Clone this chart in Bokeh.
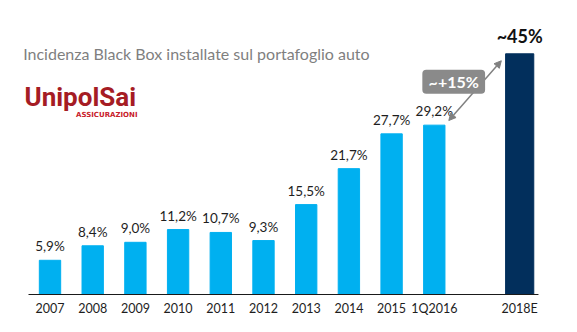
from bokeh.plotting import figure
from bokeh.models import Range1d, FixedTicker, Label, Arrow, NormalHead, BoxAnnotation
from bokeh.core.properties import value
from bokeh.embed import file_html
from bokeh.resources import INLINE

# ---- data ----
periods = ["2007", "2008", "2009", "2010", "2011", "2012", "2013", "2014", "2015", "1Q2016"]
shares = [5.9, 8.4, 9.0, 11.2, 10.7, 9.3, 15.5, 21.7, 27.7, 29.2]
share_labels = ["5,9%", "8,4%", "9,0%", "11,2%", "10,7%", "9,3%", "15,5%", "21,7%", "27,7%", "29,2%"]
target_period = "2018E"
target_bar = 41.5          # bar height as drawn in the picture
target_label = "~45%"
growth_label = "~+15%"
title_text = "Incidenza Black Box installate sul portafoglio auto"
logo_text = "UnipolSai"
logo_sub = "ASSICURAZIONI"

xs = list(range(len(periods)))
target_x = len(periods) + 1   # one empty slot before the estimate

FONT = "Lato"

p = figure(width=577, height=332, output_backend="svg", toolbar_location=None,
           x_range=Range1d(-1.1593, 12.354), y_range=Range1d(-0.17, 50.69),
           min_border_left=0, min_border_right=0, min_border_top=0, min_border_bottom=37,
           y_axis_location=None)
p.outline_line_color = None
p.grid.visible = False
p.background_fill_color = "white"

# bars
p.vbar(x=xs, top=shares, width=0.5, color="#00b0f0")
p.vbar(x=[target_x], top=[target_bar], width=0.66, color="#022f5c")

# baseline
p.segment(x0=[xs[0] - 0.5035], y0=[0], x1=[target_x + 0.44], y1=[0],
          line_color="#1a1a1a", line_width=1)

# value labels
p.text(x=xs, y=shares, text=share_labels, text_align="center", text_baseline="middle",
       y_offset=-14, text_font=value(FONT), text_font_size="13.5px", text_color="#1e1e1e")
p.text(x=[target_x], y=[target_bar], text=[target_label], text_align="center",
       text_baseline="middle", y_offset=-18, text_font=value(FONT),
       text_font_size="18px", text_font_style="bold", text_color="#111111")

# axis
ax = p.xaxis[0]
ax.ticker = FixedTicker(ticks=xs + [target_x])
ax.major_label_overrides = {**{x: lab for x, lab in zip(xs, periods)}, target_x: target_period}
ax.axis_line_color = None
ax.major_tick_line_color = None
ax.minor_tick_line_color = None
ax.major_tick_out = 0
ax.major_tick_in = 0
ax.major_label_standoff = 5
ax.major_label_text_font = FONT
ax.major_label_text_font_size = "12.5px"
ax.major_label_text_color = "#1e1e1e"

# growth annotation
gray = "#8a8a8a"
p.add_layout(Arrow(x_start=xs[-1] + 0.34, y_start=shares[-1] + 0.8,
                   x_end=target_x - 0.43, y_end=target_bar - 1.2,
                   line_color="#808080", line_width=1.5,
                   start=NormalHead(size=7, fill_color="#808080", line_color="#808080"),
                   end=NormalHead(size=7, fill_color="#808080", line_color="#808080")))
p.add_layout(BoxAnnotation(left=8.72, right=10.19, bottom=34.63, top=38.77,
                           fill_color=gray, fill_alpha=1.0, line_color=None, border_radius=4))
p.add_layout(Label(x=9.455, y=36.7, text=growth_label, text_align="center",
                   text_baseline="middle", text_font=FONT, text_font_size="16px",
                   text_font_style="bold", text_color="white"))

# title and logo
p.add_layout(Label(x=-0.628, y=41.55, text=title_text, text_baseline="middle",
                   text_font=FONT, text_font_size="16px", text_color="#7f7f7f"))
p.add_layout(Label(x=-0.597, y=34.0, text=logo_text, text_baseline="middle",
                   text_font="Roboto", text_font_size="26px",
                   text_font_style="bold", text_color="#a51c24"))
p.add_layout(Label(x=2.05, y=31.0, text=logo_sub, text_align="right", text_baseline="middle",
                   text_font="DejaVu Sans", text_font_size="7px", text_font_style="bold",
                   text_color="#c8202a"))

open("out.html", "w").write(file_html(p, INLINE))
